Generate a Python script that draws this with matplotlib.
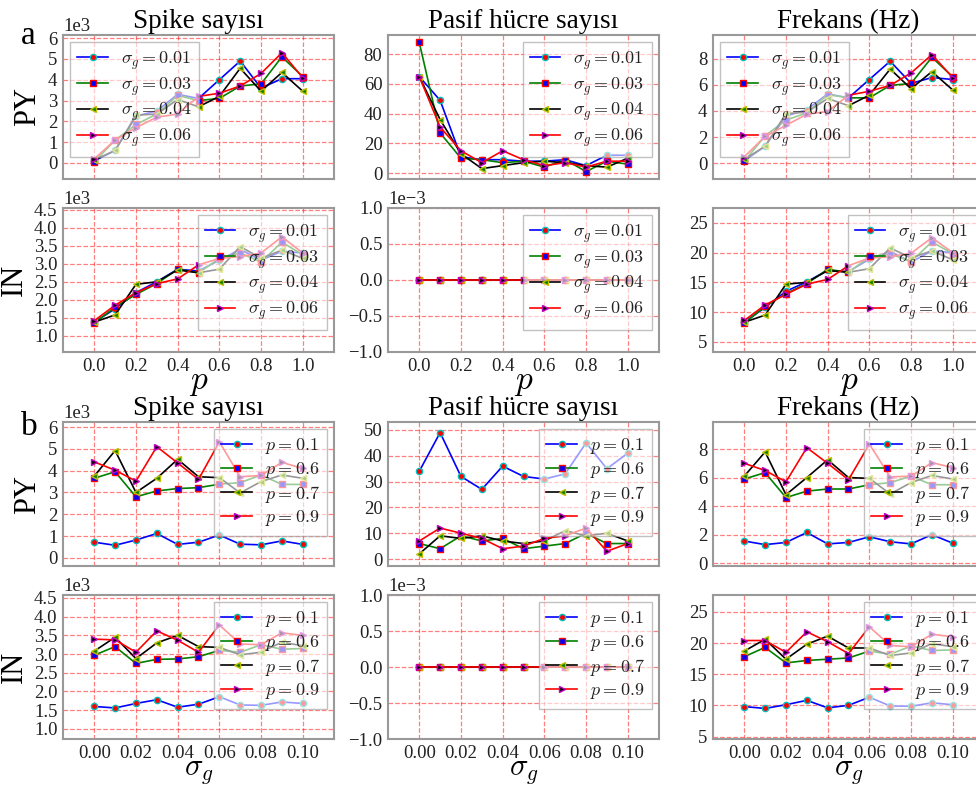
import numpy as np
import matplotlib
matplotlib.use("Agg")
import matplotlib.pyplot as plt
from matplotlib.ticker import FixedLocator, FormatStrFormatter, ScalarFormatter

plt.rcParams['font.family'] = ['Liberation Serif', 'DejaVu Serif']
plt.rcParams['mathtext.fontset'] = 'cm'
plt.rcParams['axes.unicode_minus'] = True

# x values
p_vals = [0.0, 0.1, 0.2, 0.3, 0.4, 0.5, 0.6, 0.7, 0.8, 0.9, 1.0]
sg_vals = [0.00, 0.01, 0.02, 0.03, 0.04, 0.05, 0.06, 0.07, 0.08, 0.09, 0.10]

sg_labels = [r'$\sigma_g=0.01$', r'$\sigma_g=0.03$', r'$\sigma_g=0.04$', r'$\sigma_g=0.06$']
p_labels = [r'$p=0.1$', r'$p=0.6$', r'$p=0.7$', r'$p=0.9$']

# (a) vs p, one series per sigma_g
py_spike_a = [
    [100, 600, 2250, 2500, 3300, 3100, 4000, 4900, 3600, 4050, 4050],
    [50, 1100, 1850, 2350, 3250, 3000, 3100, 3700, 3800, 5100, 4150],
    [150, 600, 2300, 2350, 3050, 2700, 3200, 4550, 3450, 4350, 3450],
    [200, 1100, 1700, 2200, 2350, 3200, 3350, 3700, 4300, 5300, 4100],
]
py_passive_a = [
    [65, 49, 11, 9, 9, 8, 8, 9, 5, 12, 12],
    [88, 27, 10, 9, 7, 8, 4, 9, 1, 8, 6],
    [65, 36, 13, 3, 5, 7, 8, 7, 5, 4, 10],
    [65, 31, 15, 7, 15, 9, 5, 7, 4, 8, 8],
]
py_freq_a = [
    [0.2, 1.3, 3.6, 4.1, 5.3, 5.0, 6.4, 7.8, 6.1, 6.55, 6.4],
    [0.15, 2.1, 3.3, 3.85, 5.25, 5.0, 5.0, 5.95, 6.1, 8.1, 6.6],
    [0.3, 1.3, 3.8, 3.9, 4.95, 4.4, 5.2, 7.2, 5.7, 7.0, 5.6],
    [0.5, 2.05, 2.9, 3.75, 3.95, 5.2, 5.5, 5.95, 6.9, 8.3, 6.55],
]
in_spike_a = [
    [1380, 1750, 2200, 2500, 2850, 2800, 3100, 3400, 3100, 3350, 3300],
    [1350, 1800, 2150, 2450, 2850, 2750, 3150, 3300, 3050, 3600, 3250],
    [1380, 1580, 2430, 2500, 2830, 2750, 2850, 3480, 3150, 3380, 3150],
    [1420, 1850, 2200, 2450, 2580, 2970, 3150, 3200, 3300, 3750, 3300],
]
in_passive_a = [[0] * 11 for _ in range(4)]
in_freq_a = [
    [8.3, 10.8, 13.5, 15.1, 17.0, 16.8, 18.9, 20.2, 18.4, 20.3, 20.0],
    [8.1, 11.0, 13.1, 14.8, 17.2, 16.7, 19.3, 19.8, 18.5, 21.8, 19.8],
    [8.3, 9.5, 14.7, 15.0, 17.0, 16.7, 17.3, 20.8, 19.1, 20.3, 18.8],
    [8.6, 11.2, 13.0, 14.7, 15.5, 17.8, 19.1, 19.3, 19.9, 22.5, 20.0],
]

# (b) vs sigma_g, one series per p
py_spike_b = [
    [720, 580, 820, 1120, 620, 720, 1050, 630, 600, 780, 620],
    [3650, 3950, 2800, 3070, 3180, 3220, 3380, 3450, 3800, 3370, 3370],
    [3750, 4920, 3000, 3650, 4520, 3720, 3680, 2980, 3500, 3800, 3650],
    [4400, 4020, 3520, 5100, 4350, 3600, 5320, 3720, 3780, 4380, 4100],
]
py_passive_b = [
    [34, 49, 32, 27, 36, 32, 31, 33, 45, 35, 41],
    [6, 4, 9, 7, 8, 4, 5, 6, 10, 6, 6],
    [2, 9, 8, 9, 7, 6, 7, 11, 9, 10, 7],
    [7, 12, 10, 8, 4, 5, 8, 9, 12, 3, 6],
]
py_freq_b = [
    [1.55, 1.3, 1.45, 2.15, 1.35, 1.45, 1.85, 1.5, 1.35, 2.0, 1.4],
    [5.9, 6.35, 4.6, 5.05, 5.2, 5.2, 5.5, 5.65, 6.1, 5.5, 5.5],
    [6.1, 7.8, 4.8, 6.0, 7.25, 6.0, 5.95, 4.85, 5.65, 6.15, 5.9],
    [7.0, 6.5, 5.7, 8.1, 7.0, 5.85, 8.35, 6.05, 6.1, 7.05, 6.7],
]
in_spike_b = [
    [1600, 1560, 1680, 1780, 1580, 1660, 1860, 1640, 1630, 1720, 1680],
    [2970, 3200, 2750, 2860, 2870, 2930, 3100, 3050, 3250, 3130, 3150],
    [3080, 3450, 2880, 3300, 3500, 3200, 3180, 2980, 3050, 3320, 3220],
    [3400, 3380, 3050, 3620, 3370, 3050, 3780, 3270, 3250, 3570, 3500],
]
in_passive_b = [[0] * 11 for _ in range(4)]
in_freq_b = [
    [9.8, 9.5, 10.1, 10.8, 9.6, 10.0, 11.3, 9.9, 9.85, 10.4, 10.1],
    [17.8, 19.3, 16.8, 17.2, 17.4, 17.6, 18.7, 18.2, 19.5, 18.8, 18.9],
    [18.7, 20.6, 17.4, 19.8, 21.1, 19.2, 19.2, 18.0, 18.4, 19.9, 19.4],
    [20.4, 20.4, 18.5, 21.8, 20.2, 18.3, 22.6, 19.6, 19.4, 21.4, 21.0],
]

col_titles = ['Spike sayısı', 'Pasif hücre sayısı', 'Frekans (Hz)']

# line colour, marker, marker face, marker edge
styles = [('b', 'o', 'r', 'c'), ('g', 's', 'b', 'r'),
          ('k', '<', 'g', 'y'), ('r', '>', 'k', 'm')]

W, H = 976, 785
fig = plt.figure(figsize=(W / 100, H / 100), dpi=100)

col_left = [63, 388, 713]
row_top = [35, 208, 422, 595]
aw, ah = 271, 144


def make_ax(r, c):
    return fig.add_axes([col_left[c] / W, 1 - (row_top[r] + ah) / H, aw / W, ah / H])


def panel(ax, x, series, labels, xlim, xticks, xfmt, ylim, yticks, sci, loc):
    for ys, lab, (lc, mk, mf, me) in zip(series, labels, styles):
        ax.plot(x, ys, color=lc, marker=mk, mfc=mf, mec=me, ms=4.5, mew=1.0,
                lw=1.2, label=lab)
    ax.set_xlim(*xlim)
    ax.set_ylim(*ylim)
    ax.xaxis.set_major_locator(FixedLocator(xticks))
    ax.xaxis.set_major_formatter(FormatStrFormatter(xfmt))
    ax.yaxis.set_major_locator(FixedLocator(yticks))
    if sci:
        fmt = ScalarFormatter()
        fmt.set_powerlimits((0, 0))
        ax.yaxis.set_major_formatter(fmt)
    ax.grid(True, color='r', ls='--', lw=0.9, alpha=0.5)
    ax.tick_params(length=0, labelsize=13.5, pad=4, labelcolor='#222222')
    ax.yaxis.get_offset_text().set_fontsize(13.5)
    for s in ax.spines.values():
        s.set_color('#999999')
        s.set_linewidth(1.5)
    leg = ax.legend(loc=loc, fontsize=13, numpoints=1, fancybox=False,
                    framealpha=0.6, edgecolor='#999999', borderaxespad=0.4,
                    labelspacing=0.2, handlelength=1.7, handletextpad=0.7,
                    borderpad=0.4)
    for t in leg.get_texts():
        t.set_color('#222222')


p_lim = (-0.15, 1.15)
p_ticks = [0.0, 0.2, 0.4, 0.6, 0.8, 1.0]
s_lim = (-0.015, 0.115)
s_ticks = [0.00, 0.02, 0.04, 0.06, 0.08, 0.10]

# row 1: (a) PY
ax = make_ax(0, 0)
panel(ax, p_vals, py_spike_a, sg_labels, p_lim, p_ticks, '%.1f',
      (-770, 6150), [0, 1000, 2000, 3000, 4000, 5000, 6000], True, 'upper left')
ax.set_ylabel('PY', fontsize=22, labelpad=4)
ax.set_title(col_titles[0], fontsize=19.5, pad=5)
ax.tick_params(labelbottom=False)
ax = make_ax(0, 1)
panel(ax, p_vals, py_passive_a, sg_labels, p_lim, p_ticks, '%.1f',
      (-4, 93), [0, 20, 40, 60, 80], False, 'upper right')
ax.set_title(col_titles[1], fontsize=19.5, pad=5)
ax.tick_params(labelbottom=False)
ax = make_ax(0, 2)
panel(ax, p_vals, py_freq_a, sg_labels, p_lim, p_ticks, '%.1f',
      (-1.2, 9.8), [0, 2, 4, 6, 8], False, 'upper left')
ax.set_title(col_titles[2], fontsize=19.5, pad=5)
ax.tick_params(labelbottom=False)

# row 2: (a) IN
ax = make_ax(1, 0)
panel(ax, p_vals, in_spike_a, sg_labels, p_lim, p_ticks, '%.1f',
      (550, 4550), [1000, 1500, 2000, 2500, 3000, 3500, 4000, 4500], True, 'upper right')
ax.set_ylabel('IN', fontsize=22, labelpad=4)
ax.set_xlabel('$p$', fontsize=24, labelpad=-5)
ax = make_ax(1, 1)
panel(ax, p_vals, in_passive_a, sg_labels, p_lim, p_ticks, '%.1f',
      (-1e-3, 1e-3), [-1e-3, -5e-4, 0, 5e-4, 1e-3], True, 'upper right')
ax.set_xlabel('$p$', fontsize=24, labelpad=-5)
ax = make_ax(1, 2)
panel(ax, p_vals, in_freq_a, sg_labels, p_lim, p_ticks, '%.1f',
      (3.3, 27.5), [5, 10, 15, 20, 25], False, 'upper right')
ax.set_xlabel('$p$', fontsize=24, labelpad=-5)

# row 3: (b) PY
ax = make_ax(2, 0)
panel(ax, sg_vals, py_spike_b, p_labels, s_lim, s_ticks, '%.2f',
      (-370, 6230), [0, 1000, 2000, 3000, 4000, 5000, 6000], True, 'upper right')
ax.set_ylabel('PY', fontsize=22, labelpad=4)
ax.set_title(col_titles[0], fontsize=19.5, pad=5)
ax.tick_params(labelbottom=False)
ax = make_ax(2, 1)
panel(ax, sg_vals, py_passive_b, p_labels, s_lim, s_ticks, '%.2f',
      (-2.7, 53.1), [0, 10, 20, 30, 40, 50], False, 'upper right')
ax.set_title(col_titles[1], fontsize=19.5, pad=5)
ax.tick_params(labelbottom=False)
ax = make_ax(2, 2)
panel(ax, sg_vals, py_freq_b, p_labels, s_lim, s_ticks, '%.2f',
      (-0.2, 9.9), [0, 2, 4, 6, 8], False, 'upper right')
ax.set_title(col_titles[2], fontsize=19.5, pad=5)
ax.tick_params(labelbottom=False)

# row 4: (b) IN
ax = make_ax(3, 0)
panel(ax, sg_vals, in_spike_b, p_labels, s_lim, s_ticks, '%.2f',
      (730, 4580), [1000, 1500, 2000, 2500, 3000, 3500, 4000, 4500], True, 'upper right')
ax.set_ylabel('IN', fontsize=22, labelpad=4)
ax.set_xlabel(r'$\sigma_g$', fontsize=22, labelpad=-3)
ax = make_ax(3, 1)
panel(ax, sg_vals, in_passive_b, p_labels, s_lim, s_ticks, '%.2f',
      (-1e-3, 1e-3), [-1e-3, -5e-4, 0, 5e-4, 1e-3], True, 'upper right')
ax.set_xlabel(r'$\sigma_g$', fontsize=22, labelpad=-3)
ax = make_ax(3, 2)
panel(ax, sg_vals, in_freq_b, p_labels, s_lim, s_ticks, '%.2f',
      (4.6, 27.7), [5, 10, 15, 20, 25], False, 'upper right')
ax.set_xlabel(r'$\sigma_g$', fontsize=22, labelpad=-3)

fig.text(28 / W, 1 - 36 / H, 'a', fontsize=24, ha='center', va='center')
fig.text(29 / W, 1 - 427 / H, 'b', fontsize=24, ha='center', va='center')

fig.savefig('out.png', dpi=100)
